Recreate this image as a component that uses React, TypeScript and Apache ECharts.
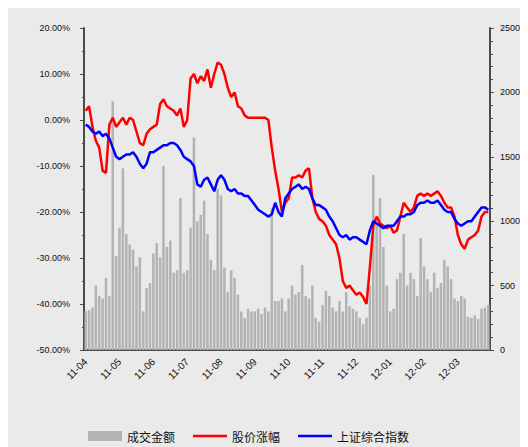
import React, { useEffect, useRef } from "react";
import * as echarts from "echarts";

const monthLabels = ["11-04", "11-05", "11-06", "11-07", "11-08", "11-09", "11-10", "11-11", "11-12", "12-01", "12-02", "12-03"];
const pointsPerMonth = 10;

const stockChange = [
  2.0, 3.0, -1.5, -4.5, -6, -11, -11.5, -1, 0.5, -1.5,
  -0.5, 0.5, -1, 0.5, 0, -2.5, -5, -5.5, -3, -2,
  -1.5, -1, 3.5, 4.5, 3, 2.5, 2, 1, 2.5, -1.5,
  0, 9, 10, 8, 9.5, 8.5, 11, 7, 10, 12.5,
  12, 10, 7, 5, 6, 3, 2.5, 1, 0.5, 0.5,
  0.5, 0.5, 0.5, 0.5, 0, -6, -11, -15, -20, -18,
  -17, -12.5, -12.5, -12, -12.5, -11, -10.5, -17, -20, -21.5,
  -22, -23, -25, -26, -27, -30, -35, -36.5, -36, -37,
  -38, -37.5, -38.5, -40, -32, -23, -21, -22.5, -23, -23.5,
  -23, -24.5, -24, -21, -18, -19, -20, -19, -16.5, -16,
  -16.5, -16, -16.5, -16, -15.5, -16.5, -18, -19, -19, -21,
  -25, -27, -28, -26, -25.5, -25, -24, -21, -20, -20,
];

const indexChange = [
  -1, -1.5, -2.5, -3, -2.5, -3.5, -3, -4, -6, -8,
  -8.5, -8, -7.5, -7.5, -7, -8, -9.5, -10.5, -9.5, -7,
  -7, -6.5, -6, -5.5, -5.5, -5, -5, -5.5, -6.5, -8,
  -8.5, -9, -10, -14, -14.5, -13, -12.5, -14, -15.5, -13,
  -12, -13, -15, -15.5, -15, -16, -16, -16.5, -16.5, -17.5,
  -18.5, -19.5, -20, -20.5, -21, -20.5, -18, -20, -21, -17,
  -16, -15, -14.5, -14, -15, -14.5, -15, -17, -18.5, -18.5,
  -19, -19.5, -21, -22, -23.5, -25, -25.5, -25, -26, -25.5,
  -25.5, -26, -26.5, -27, -24, -22, -22.5, -23, -23.5, -23,
  -23, -23, -22, -21, -21, -20.5, -20.5, -20, -18.5, -18,
  -18, -17.5, -18, -18, -17.5, -18.5, -19.5, -20, -20, -21.5,
  -22.5, -23, -22.5, -22, -22, -21, -20, -19, -19, -19.5,
];

const turnover = [
  300, 310, 330, 500, 420, 400, 560, 420, 1930, 730,
  950, 1410, 900, 820, 780, 650, 720, 300, 480, 520,
  750, 830, 720, 1430, 800, 850, 600, 620, 1180, 600,
  620, 950, 1650, 1000, 1050, 1160, 900, 700, 620, 1250,
  1200, 640, 450, 620, 560, 430, 300, 250, 320, 300,
  300, 320, 280, 330, 300, 1100, 380, 380, 400, 300,
  400, 500, 430, 450, 660, 420, 400, 500, 250, 220,
  350, 460, 420, 330, 300, 380, 300, 450, 340, 320,
  300, 250, 200, 250, 500, 1360, 1000, 1180, 800, 500,
  300, 320, 550, 600, 900, 500, 600, 550, 420, 870,
  650, 550, 450, 600, 480, 520, 700, 650, 550, 400,
  380, 420, 400, 260, 250, 270, 240, 320, 330, 350,
];

const categories = turnover.map((_, i) =>
  i % pointsPerMonth === 0 ? monthLabels[i / pointsPerMonth] : monthLabels[Math.floor(i / pointsPerMonth)] + "-" + (i % pointsPerMonth)
);

const lineIcon = "path://M0,0 H40 V3 H0 Z";

export default function App() {
  const ref = useRef<HTMLDivElement>(null);
  useEffect(() => {
    if (!ref.current) return;
    const chart = echarts.init(ref.current, null, { renderer: "svg" });
    const axisColor = "#4a4a4a";
    const font = "Liberation Sans, DejaVu Sans, sans-serif";
    chart.setOption({
      animation: false,
      backgroundColor: "#eaeaea",
      textStyle: { fontFamily: "'Noto Sans CJK SC', sans-serif" },
      grid: { left: 76, right: 46, top: 20, bottom: 105 },
      legend: {
        left: 80,
        top: 422,
        padding: 0,
        itemWidth: 34,
        itemHeight: 10,
        itemGap: 18,
        textStyle: { fontSize: 12, color: "#111", fontFamily: "'Noto Sans CJK SC', sans-serif" },
        data: [
          { name: "成交金额", icon: "rect" },
          { name: "股价涨幅", icon: lineIcon },
          { name: "上证综合指数", icon: lineIcon },
        ],
      },
      xAxis: {
        type: "category",
        data: categories,
        boundaryGap: true,
        axisLine: { onZero: false, lineStyle: { color: axisColor, width: 2 } },
        axisTick: {
          alignWithLabel: false,
          interval: (i: number) => i % pointsPerMonth === 0,
          length: 4,
          lineStyle: { color: axisColor },
        },
        axisLabel: {
          interval: (i: number) => i % pointsPerMonth === 0,
          rotate: 45,
          fontSize: 10,
          color: "#111",
          fontFamily: font,
          margin: 10,
        },
        splitLine: { show: false },
      },
      yAxis: [
        {
          type: "value",
          min: -50,
          max: 20,
          interval: 10,
          position: "left",
          axisLine: { show: true, lineStyle: { color: axisColor, width: 2 } },
          axisTick: { show: true, length: 4, lineStyle: { color: axisColor } },
          minorTick: { show: true, splitNumber: 2, length: 2, lineStyle: { color: axisColor } },
          axisLabel: {
            formatter: (v: number) => v.toFixed(2) + "%",
            fontSize: 9,
            color: "#111",
            fontFamily: font,
            margin: 14,
          },
          splitLine: { show: false },
        },
        {
          type: "value",
          min: 0,
          max: 2500,
          interval: 500,
          position: "right",
          axisLine: { show: true, lineStyle: { color: axisColor, width: 2 } },
          axisTick: { show: true, length: 4, lineStyle: { color: axisColor } },
          minorTick: { show: true, splitNumber: 5, length: 3, lineStyle: { color: axisColor } },
          axisLabel: {
            formatter: (v: number) => String(v),
            fontSize: 9,
            color: "#111",
            fontFamily: font,
            margin: 10,
          },
          splitLine: { show: false },
        },
      ],
      series: [
        {
          name: "成交金额",
          type: "bar",
          yAxisIndex: 1,
          data: turnover,
          barCategoryGap: "25%",
          itemStyle: { color: "#b3b3b3" },
        },
        {
          name: "股价涨幅",
          type: "line",
          yAxisIndex: 0,
          data: stockChange,
          symbol: "none",
          lineStyle: { color: "#ff0000", width: 2.5 },
          itemStyle: { color: "#ff0000" },
        },
        {
          name: "上证综合指数",
          type: "line",
          yAxisIndex: 0,
          data: indexChange,
          symbol: "none",
          lineStyle: { color: "#0000ff", width: 2.5 },
          itemStyle: { color: "#0000ff" },
        },
      ],
    });
    return () => chart.dispose();
  }, []);
  return <div ref={ref} style={{ width: 528, height: 447 }} />;
}
